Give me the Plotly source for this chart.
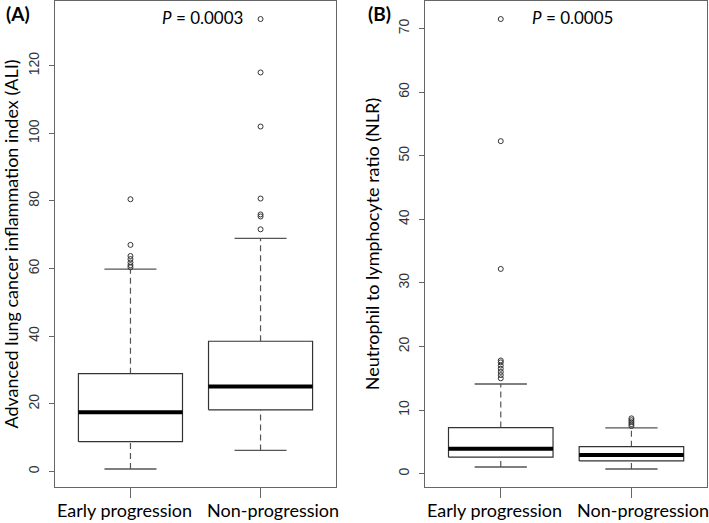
import plotly.graph_objects as go

# ---------------- data ----------------
groups = ["Early progression", "Non-progression"]
positions = [1, 2]

# Panel A: ALI
ali_low = [0.7, 6.2]
ali_q1 = [8.8, 18.2]
ali_med = [17.5, 25.1]
ali_q3 = [28.9, 38.5]
ali_high = [59.8, 68.9]
ali_out_early = [60.4, 61.0, 61.8, 62.8, 63.7, 67.0, 80.5]
ali_out_non = [71.6, 75.4, 76.0, 80.7, 102.0, 118.0, 133.8]
ali_ticks = [0, 20, 40, 60, 80, 100, 120]

# Panel B: NLR
nlr_low = [1.05, 0.73]
nlr_q1 = [2.6, 2.0]
nlr_med = [3.9, 2.95]
nlr_q3 = [7.25, 4.25]
nlr_high = [14.1, 7.2]
nlr_out_early = [15.0, 15.5, 16.0, 16.5, 17.0, 17.5, 17.8, 32.2, 52.3, 71.5]
nlr_out_non = [7.5, 7.8, 8.1, 8.4, 8.7]
nlr_ticks = [0, 10, 20, 30, 40, 50, 60, 70]

# ---------------- style ----------------
FRAME = "#666666"
BOXLINE = "#333333"
WHISK = "#555555"
LABEL_FONT = "Lato"
TICK_FONT = "Liberation Sans"
TXT = "#000000"

fig = go.Figure()


def add_panel(xa, ya, low, q1, med, q3, high, outs):
    for i, p in enumerate(positions):
        # whiskers (dashed)
        fig.add_trace(go.Scatter(x=[p, p, None, p, p], y=[low[i], q1[i], None, q3[i], high[i]],
                                 mode="lines", line=dict(color=WHISK, width=1.2, dash="6px,4px"),
                                 xaxis=xa, yaxis=ya, showlegend=False, hoverinfo="skip"))
        # staples
        fig.add_trace(go.Scatter(x=[p - 0.2, p + 0.2, None, p - 0.2, p + 0.2],
                                 y=[low[i], low[i], None, high[i], high[i]],
                                 mode="lines", line=dict(color=WHISK, width=1.3),
                                 xaxis=xa, yaxis=ya, showlegend=False, hoverinfo="skip"))
        # box
        fig.add_trace(go.Scatter(x=[p - 0.4, p + 0.4, p + 0.4, p - 0.4, p - 0.4],
                                 y=[q1[i], q1[i], q3[i], q3[i], q1[i]],
                                 mode="lines", fill="toself", fillcolor="white",
                                 line=dict(color=BOXLINE, width=1.2),
                                 xaxis=xa, yaxis=ya, showlegend=False, hoverinfo="skip"))
        # median
        fig.add_trace(go.Scatter(x=[p - 0.4, p + 0.4], y=[med[i], med[i]],
                                 mode="lines", line=dict(color="black", width=4),
                                 xaxis=xa, yaxis=ya, showlegend=False, hoverinfo="skip"))
        # outliers
        fig.add_trace(go.Scatter(x=[p] * len(outs[i]), y=outs[i], mode="markers",
                                 marker=dict(symbol="circle-open", size=5, color="#333333",
                                             line=dict(width=1)),
                                 xaxis=xa, yaxis=ya, showlegend=False, hoverinfo="skip"))


add_panel("x", "y", ali_low, ali_q1, ali_med, ali_q3, ali_high, [ali_out_early, ali_out_non])
add_panel("x2", "y2", nlr_low, nlr_q1, nlr_med, nlr_q3, nlr_high, [nlr_out_early, nlr_out_non])


def r_range(vals):
    lo, hi = min(vals), max(vals)
    s = hi - lo
    return [lo - 0.04 * s, hi + 0.04 * s]


ali_range = r_range(ali_low + ali_out_early + ali_out_non)
nlr_range = r_range(nlr_low + nlr_out_early + nlr_out_non)

xcommon = dict(range=[0.42, 2.58], tickvals=positions, ticktext=groups, ticks="outside",
               ticklen=10, tickcolor=FRAME, tickwidth=1.2, showline=True, mirror=True,
               linecolor=FRAME, linewidth=1.3, showgrid=False, zeroline=False,
               showticklabels=False, automargin=False)
ycommon = dict(ticks="outside", ticklen=5, tickcolor=FRAME, tickwidth=1.2, showline=True,
               mirror=True, linecolor=FRAME, linewidth=1.3, showgrid=False, zeroline=False,
               tickangle=-90, automargin=False, ticklabelstandoff=4,
               tickfont=dict(family=TICK_FONT, size=14, color="#333333"))

annotations = [
    dict(text="<b>(A)</b>", x=4 / 709, y=1 - 14 / 523, xref="paper", yref="paper",
         xanchor="left", yanchor="middle", showarrow=False,
         font=dict(family=LABEL_FONT, size=19, color=TXT)),
    dict(text="<b>(B)</b>", x=366 / 709, y=1 - 14 / 523, xref="paper", yref="paper",
         xanchor="left", yanchor="middle", showarrow=False,
         font=dict(family=LABEL_FONT, size=19, color=TXT)),
    dict(text="<i>P</i> = 0.0003", x=202 / 709, y=1 - 17 / 523, xref="paper", yref="paper",
         xanchor="center", yanchor="middle", showarrow=False,
         font=dict(family=LABEL_FONT, size=17, color=TXT)),
    dict(text="<i>P</i> = 0.0005", x=572 / 709, y=1 - 17 / 523, xref="paper", yref="paper",
         xanchor="center", yanchor="middle", showarrow=False,
         font=dict(family=LABEL_FONT, size=17, color=TXT)),
]
# category labels under each panel, anchored to the category positions on the x axes
label_shift = [-6, 12]
for xref in ["x", "x2"]:
    for p, g, sh in zip(positions, groups, label_shift):
        annotations.append(dict(text=g, x=p, xref=xref, y=0, yref="paper",
                                xanchor="center", yanchor="bottom", xshift=sh, yshift=1,
                                showarrow=False, borderpad=0,
                                font=dict(family=LABEL_FONT, size=18, color=TXT)))

fig.update_layout(
    width=709, height=523,
    margin=dict(l=0, r=0, t=0, b=0),
    paper_bgcolor="white", plot_bgcolor="white",
    xaxis=dict(domain=[0.0776, 0.4739], anchor="y", **xcommon),
    xaxis2=dict(domain=[0.5994, 0.9975], anchor="y2", **xcommon),
    yaxis=dict(domain=[0.0688, 0.998], anchor="x", range=ali_range, tickvals=ali_ticks,
               title=dict(text="Advanced lung cancer inflammation index (ALI)",
                          font=dict(family=LABEL_FONT, size=18, color=TXT), standoff=14),
               **ycommon),
    yaxis2=dict(domain=[0.0688, 0.998], anchor="x2", range=nlr_range, tickvals=nlr_ticks,
                title=dict(text="Neutrophil to lymphocyte ratio (NLR)",
                           font=dict(family=LABEL_FONT, size=18, color=TXT), standoff=11),
                **ycommon),
    annotations=annotations,
)

fig.write_html("out.html", config={"displayModeBar": False},
               post_script="document.body.style.margin='0';")
